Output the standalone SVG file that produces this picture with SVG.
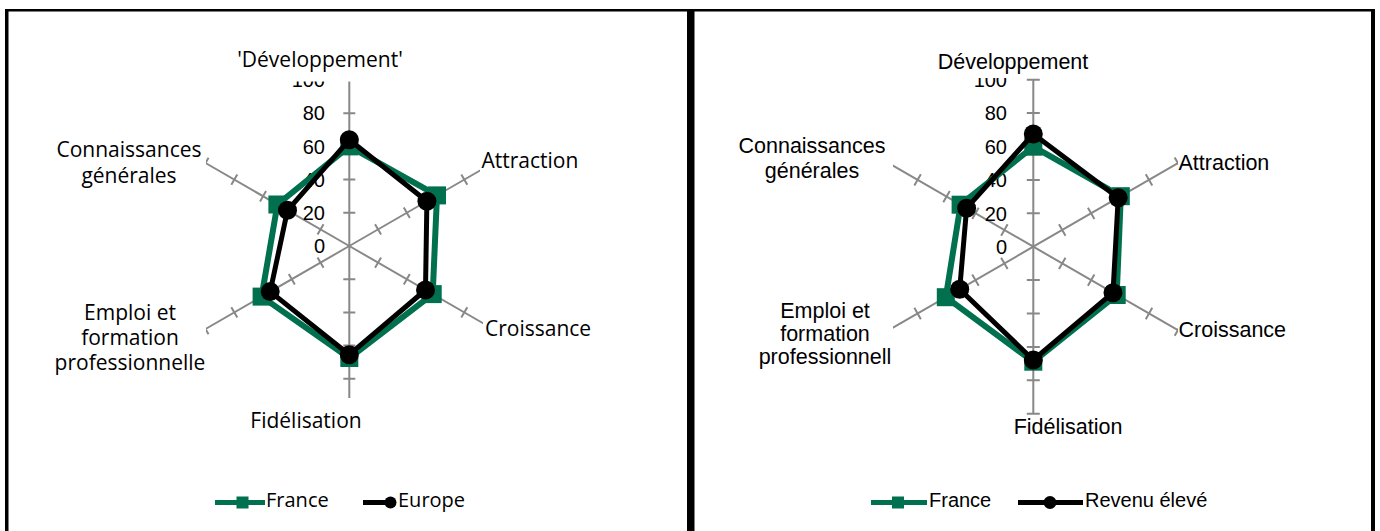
<svg xmlns="http://www.w3.org/2000/svg" width="1380" height="531" viewBox="0 0 1380 531">
<style>
.ax{stroke:#888;stroke-width:2;fill:none}
.num{font-family:"Liberation Sans",Arial,sans-serif;font-size:20px;fill:#000;text-anchor:end}
.catL{font-family:"Open Sans",sans-serif;font-size:21px;fill:#000}
.catR{font-family:"Liberation Sans",Arial,sans-serif;font-size:21.5px;fill:#000}
.legL{font-family:"Open Sans",sans-serif;font-size:20px;fill:#000}
.legR{font-family:"Liberation Sans",Arial,sans-serif;font-size:20px;fill:#000}
.mid{text-anchor:middle}
.bg{fill:#fff}
.fr{fill:none;stroke:#00704F;stroke-width:6;stroke-linejoin:round}
.eu{fill:none;stroke:#000;stroke-width:5;stroke-linejoin:round}
.frame{fill:#000}
</style>
<defs>
<path id="spokeL" class="ax" d="M0,0V-166M-6,-33.2H6M-6,-66.4H6M-6,-99.6H6M-6,-132.8H6M-6,-166H6"/>
<path id="spokeR" class="ax" d="M0,0V-167M-6.5,-33.4H6.5M-6.5,-66.8H6.5M-6.5,-100.2H6.5M-6.5,-133.6H6.5M-6.5,-167H6.5"/>
<rect id="sq" x="-9" y="-9" width="18" height="18" fill="#00704F"/>
<circle id="ci" r="9.5" fill="#000"/>
</defs>

<g id="frame">
<rect class="frame" x="5" y="9" width="1370" height="2.5"/>
<rect class="frame" x="5" y="9" width="3.5" height="522"/>
<rect class="frame" x="687" y="9" width="7.5" height="522"/>
<rect class="frame" x="1371" y="9" width="4" height="522"/>
</g>

<!-- LEFT CHART -->
<g id="left-chart">
<g id="left-axes">
<use href="#spokeL" transform="translate(349.3,246)"/>
<use href="#spokeL" transform="translate(349.3,246) rotate(60)"/>
<use href="#spokeL" transform="translate(349.3,246) rotate(120)"/>
<use href="#spokeL" transform="translate(349.3,246) rotate(180)"/>
<use href="#spokeL" transform="translate(349.3,246) rotate(240)"/>
<use href="#spokeL" transform="translate(349.3,246) rotate(300)"/>
</g>
<g id="left-scale">
<text class="num" x="325" y="87.2">100</text>
<text class="num" x="325" y="120.4">80</text>
<text class="num" x="325" y="153.6">60</text>
<text class="num" x="325" y="186.8">40</text>
<text class="num" x="325" y="220">20</text>
<text class="num" x="325" y="253.2">0</text>
</g>
<g id="left-labels">
<rect class="bg" x="230" y="45" width="180" height="36.5"/>
<text class="catL mid" x="320" y="67">'Développement'</text>
<rect class="bg" x="480" y="146" width="100" height="30"/>
<text class="catL" x="481.5" y="168">Attraction</text>
<rect class="bg" x="483" y="316" width="108" height="30"/>
<text class="catL" x="485" y="336">Croissance</text>
<rect class="bg" x="248" y="398" width="118" height="38"/>
<text class="catL mid" x="306" y="428">Fidélisation</text>
<rect class="bg" x="45" y="298" width="161" height="80"/>
<text class="catL mid" x="130" y="320">Emploi et</text>
<text class="catL mid" x="130" y="345">formation</text>
<text class="catL mid" x="130" y="370">professionnelle</text>
<rect class="bg" x="50" y="138" width="156" height="52"/>
<text class="catL mid" x="129" y="157">Connaissances</text>
<text class="catL mid" x="129" y="183">générales</text>
</g>
<g id="left-france">
<polygon class="fr" points="349.3,146.4 437,195.4 432.7,294.1 349.3,358 261.6,296.6 277.4,204.5"/>
<use href="#sq" x="349.3" y="146.4"/><use href="#sq" x="437" y="195.4"/><use href="#sq" x="432.7" y="294.1"/>
<use href="#sq" x="349.3" y="358"/><use href="#sq" x="261.6" y="296.6"/><use href="#sq" x="277.4" y="204.5"/>
</g>
<g id="left-europe">
<polygon class="eu" points="349.3,139.8 426.9,201.2 425.5,290 349.3,354.7 270.2,291.6 287.5,210.3"/>
<use href="#ci" x="349.3" y="139.8"/><use href="#ci" x="426.9" y="201.2"/><use href="#ci" x="425.5" y="290"/>
<use href="#ci" x="349.3" y="354.7"/><use href="#ci" x="270.2" y="291.6"/><use href="#ci" x="287.5" y="210.3"/>
</g>
<g id="left-legend">
<line x1="215" y1="502.5" x2="265" y2="502.5" stroke="#00704F" stroke-width="5"/>
<rect x="236.5" y="496.5" width="12" height="12" fill="#00704F"/>
<text class="legL" x="266" y="507">France</text>
<line x1="363" y1="502.5" x2="392" y2="502.5" stroke="#000" stroke-width="5"/>
<circle cx="390.5" cy="502.5" r="6" fill="#000"/>
<text class="legL" x="398" y="507">Europe</text>
</g>
</g>

<!-- RIGHT CHART -->
<g id="right-chart">
<g id="right-axes">
<use href="#spokeR" transform="translate(1033.3,246.7)"/>
<use href="#spokeR" transform="translate(1033.3,246.7) rotate(60)"/>
<use href="#spokeR" transform="translate(1033.3,246.7) rotate(120)"/>
<use href="#spokeR" transform="translate(1033.3,246.7) rotate(180)"/>
<use href="#spokeR" transform="translate(1033.3,246.7) rotate(240)"/>
<use href="#spokeR" transform="translate(1033.3,246.7) rotate(300)"/>
</g>
<g id="right-scale">
<text class="num" x="1007" y="86.9">100</text>
<text class="num" x="1007" y="120.3">80</text>
<text class="num" x="1007" y="153.7">60</text>
<text class="num" x="1007" y="187.1">40</text>
<text class="num" x="1007" y="220.5">20</text>
<text class="num" x="1007" y="253.9">0</text>
</g>
<g id="right-labels">
<rect class="bg" x="930" y="45" width="165" height="33"/>
<text class="catR mid" x="1013" y="69">Développement</text>
<rect class="bg" x="1178" y="150" width="95" height="28"/>
<text class="catR" x="1178.5" y="170">Attraction</text>
<rect class="bg" x="1178" y="318" width="100" height="26"/>
<text class="catR" x="1178.5" y="337">Croissance</text>
<rect class="bg" x="1010" y="416" width="118" height="24"/>
<text class="catR mid" x="1068" y="434">Fidélisation</text>
<rect class="bg" x="755" y="298" width="138" height="72"/>
<text class="catR mid" x="825" y="318">Emploi et</text>
<text class="catR mid" x="825" y="341">formation</text>
<text class="catR mid" x="825" y="364">professionnell</text>
<rect class="bg" x="735" y="133" width="158" height="52"/>
<text class="catR mid" x="812" y="153">Connaissances</text>
<text class="catR mid" x="812" y="178">générales</text>
</g>
<g id="right-france">
<polygon class="fr" points="1033.3,146.7 1120.8,196.2 1116.7,295 1033.3,361.7 945.8,297.2 960.6,204.7"/>
<use href="#sq" x="1033.3" y="146.7"/><use href="#sq" x="1120.8" y="196.2"/><use href="#sq" x="1116.7" y="295"/>
<use href="#sq" x="1033.3" y="361.7"/><use href="#sq" x="945.8" y="297.2"/><use href="#sq" x="960.6" y="204.7"/>
</g>
<g id="right-revenu">
<polygon class="eu" points="1033.3,134 1118.2,197.7 1113,292.7 1033.3,360 959.7,289.2 966.6,208.2"/>
<use href="#ci" x="1033.3" y="134"/><use href="#ci" x="1118.2" y="197.7"/><use href="#ci" x="1113" y="292.7"/>
<use href="#ci" x="1033.3" y="360"/><use href="#ci" x="959.7" y="289.2"/><use href="#ci" x="966.6" y="208.2"/>
</g>
<g id="right-legend">
<line x1="871" y1="502.5" x2="927" y2="502.5" stroke="#00704F" stroke-width="5"/>
<rect x="892" y="496.5" width="12" height="12" fill="#00704F"/>
<text class="legR" x="929" y="507">France</text>
<line x1="1018" y1="502.5" x2="1083" y2="502.5" stroke="#000" stroke-width="5"/>
<circle cx="1050" cy="502.5" r="6.5" fill="#000"/>
<text class="legR" x="1085" y="507">Revenu élevé</text>
</g>
</g>
</svg>
